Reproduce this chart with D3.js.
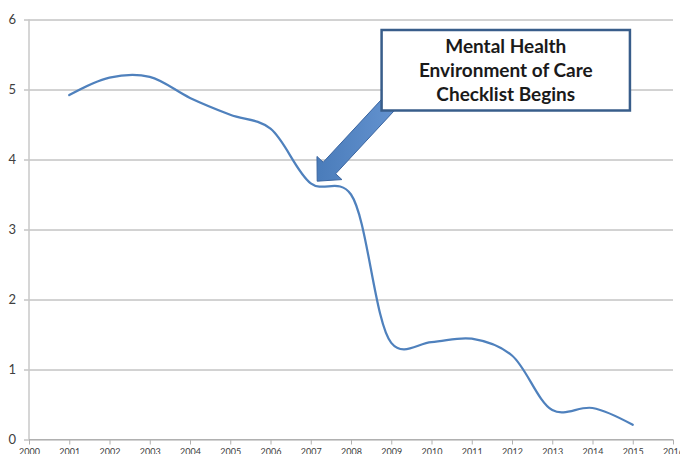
<!DOCTYPE html>
<html>
<head>
<meta charset="utf-8">
<script src="https://cdn.jsdelivr.net/npm/d3@7"></script>
<style>
  body { margin: 0; background: #fff; }
  svg { display: block; }
</style>
</head>
<body>
<div id="chart"></div>
<script>
const years = [2001, 2002, 2003, 2004, 2005, 2006, 2007, 2008, 2009, 2010, 2011, 2012, 2013, 2014, 2015];
const values = [4.92, 5.17, 5.18, 4.88, 4.64, 4.44, 3.66, 3.5, 1.38, 1.39, 1.44, 1.2, 0.42, 0.45, 0.21];
const xTicks = d3.range(2000, 2017);
const yTicks = [0, 1, 2, 3, 4, 5, 6];
const noteLines = ['Mental Health', 'Environment of Care', 'Checklist Begins'];

const w = 680;
const h = 454;
const plotLeft = 29, plotRight = 673, plotTop = 19.5, plotBottom = 439.5;

const svg = d3.select('#chart').append('svg')
  .attr('width', w)
  .attr('height', h);

const xScale = d3.scaleLinear().domain([2000, 2016]).range([plotLeft, plotRight]);
const yScale = d3.scaleLinear().domain([0, 6]).range([plotBottom, plotTop]);

// horizontal gridlines
const yAxis = d3.axisLeft(yScale)
  .tickValues(yTicks)
  .tickSize(0)
  .tickPadding(8)
  .tickFormat(d3.format('d'));
const gy = svg.append('g')
  .attr('transform', 'translate(' + (plotLeft - 5) + ',0)')
  .call(yAxis);
gy.select('.domain').remove();
gy.selectAll('.tick line')
  .attr('x1', 0)
  .attr('x2', plotRight - plotLeft + 5)
  .attr('stroke', '#a6a6a6');
gy.selectAll('.tick text')
  .attr('x', -8)
  .attr('font-family', 'Lato, "Open Sans", sans-serif')
  .attr('font-size', 13)
  .attr('fill', '#404040');

// left axis line
svg.append('line')
  .attr('x1', plotLeft).attr('x2', plotLeft)
  .attr('y1', plotTop).attr('y2', plotBottom)
  .attr('stroke', '#c8c8c8')
  .attr('stroke-width', 1.5);

// x axis
const xAxis = d3.axisBottom(xScale)
  .tickValues(xTicks)
  .tickSize(5)
  .tickPadding(4)
  .tickFormat(d3.format('d'));
const gx = svg.append('g')
  .attr('transform', 'translate(0,' + plotBottom + ')')
  .call(xAxis);
gx.select('.domain').attr('stroke', '#b0b0b0').attr('d', 'M' + plotLeft + ',0H' + plotRight);
gx.selectAll('.tick line').attr('stroke', '#b0b0b0');
gx.selectAll('.tick text')
  .attr('font-family', 'Lato, "Open Sans", sans-serif')
  .attr('font-size', 9)
  .attr('fill', '#404040');

// data line
const line = d3.line()
  .x((d, i) => xScale(years[i]))
  .y(d => yScale(d))
  .curve(d3.curveCatmullRom.alpha(0.25));

svg.append('path')
  .datum(values)
  .attr('d', line)
  .attr('fill', 'none')
  .attr('stroke', '#4f81bd')
  .attr('stroke-width', 2.25)
  .attr('stroke-linecap', 'round');

// annotation arrow (tail at box corner, tip near the 2007 point)
const tail = [xScale(2008.92), yScale(4.78)];
const tip = [xScale(2007.16), yScale(3.69)];
const dx = tip[0] - tail[0], dy = tip[1] - tail[1];
const len = Math.sqrt(dx * dx + dy * dy);
const ux = dx / len, uy = dy / len;
const px = -uy, py = ux;
const shaftHalf = 8.5, headHalf = 17, headLen = 18;
const baseX = tip[0] - ux * headLen, baseY = tip[1] - uy * headLen;
const arrowPts = [
  [tail[0] + px * shaftHalf, tail[1] + py * shaftHalf],
  [baseX + px * shaftHalf, baseY + py * shaftHalf],
  [baseX + px * headHalf, baseY + py * headHalf],
  tip,
  [baseX - px * headHalf, baseY - py * headHalf],
  [baseX - px * shaftHalf, baseY - py * shaftHalf],
  [tail[0] - px * shaftHalf, tail[1] - py * shaftHalf]
];
const defs = svg.append('defs');
const grad = defs.append('linearGradient')
  .attr('id', 'arrowFill')
  .attr('x1', 0).attr('y1', 0).attr('x2', 1).attr('y2', 0);
grad.append('stop').attr('offset', '0%').attr('stop-color', '#4a7cba');
grad.append('stop').attr('offset', '100%').attr('stop-color', '#6392cf');

svg.append('polygon')
  .attr('points', arrowPts.map(p => p.join(',')).join(' '))
  .attr('fill', 'url(#arrowFill)')
  .attr('stroke', '#3a65a0')
  .attr('stroke-width', 1);

// annotation box
const bx1 = xScale(2008.76), bx2 = xScale(2014.93);
const by1 = yScale(5.85), by2 = yScale(4.70);
svg.append('rect')
  .attr('x', bx1).attr('y', by1)
  .attr('width', bx2 - bx1).attr('height', by2 - by1)
  .attr('fill', '#fff')
  .attr('stroke', '#385d8a')
  .attr('stroke-width', 2.5);

svg.append('g')
  .selectAll('text')
  .data(noteLines)
  .enter()
  .append('text')
  .attr('x', (bx1 + bx2) / 2)
  .attr('y', (d, i) => by1 + 23 + i * 24)
  .attr('text-anchor', 'middle')
  .attr('font-family', 'Lato, "Open Sans", sans-serif')
  .attr('font-weight', 'bold')
  .attr('font-size', 19)
  .attr('fill', '#1a1a1a')
  .text(d => d);
</script>
</body>
</html>
